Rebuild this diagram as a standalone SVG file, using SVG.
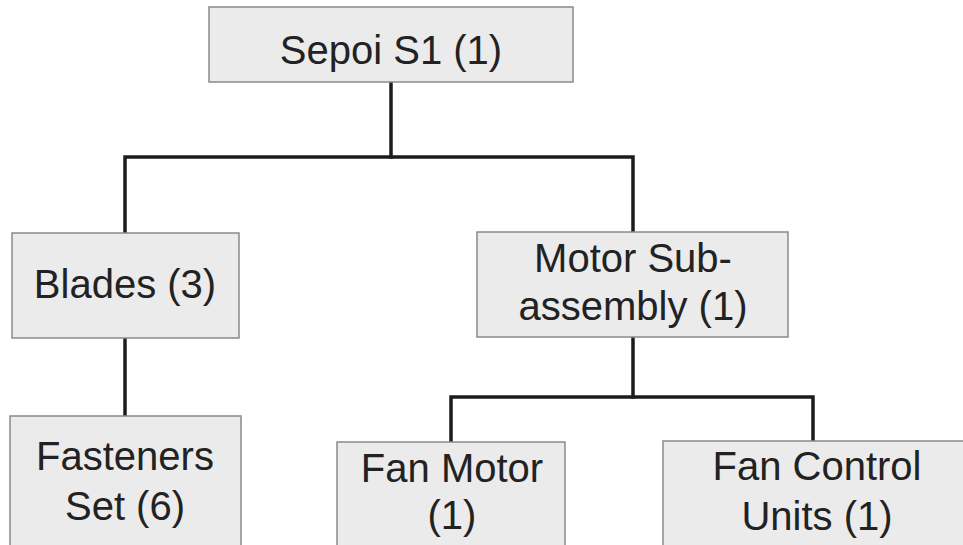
<svg xmlns="http://www.w3.org/2000/svg" width="963" height="545" viewBox="0 0 963 545">
<style>
.box{fill:#ebebeb;stroke:#8a8a8a;stroke-width:1.5}
.lbl{font-family:"Liberation Sans",Arial,sans-serif;font-size:40px;fill:#222;text-anchor:middle}
.wire{fill:none;stroke:#1c1c1c;stroke-width:3.5;stroke-linecap:square;stroke-linejoin:miter}
</style>
<rect width="963" height="545" fill="#ffffff"/>
<g id="connectors">
<path class="wire" d="M391 82 V157"/>
<path class="wire" d="M125 233 V157 H633 V232"/>
<path class="wire" d="M125 338 V416"/>
<path class="wire" d="M633 337 V397"/>
<path class="wire" d="M451 442 V397 H813 V441"/>
</g>
<g id="sepoi">
<rect class="box" x="209" y="7" width="364" height="75"/>
<text class="lbl" x="391" y="64">Sepoi S1 (1)</text>
</g>
<g id="blades">
<rect class="box" x="12" y="233" width="227" height="105"/>
<text class="lbl" x="125" y="298">Blades (3)</text>
</g>
<g id="motor-sub">
<rect class="box" x="477" y="232" width="311" height="105"/>
<text class="lbl" x="633" y="272">Motor Sub-</text>
<text class="lbl" x="633" y="320">assembly (1)</text>
</g>
<g id="fasteners">
<rect class="box" x="10" y="416" width="231" height="140"/>
<text class="lbl" x="125" y="470">Fasteners</text>
<text class="lbl" x="125" y="520">Set (6)</text>
</g>
<g id="fan-motor">
<rect class="box" x="337" y="442" width="228" height="114"/>
<text class="lbl" x="452" y="482">Fan Motor</text>
<text class="lbl" x="452" y="529">(1)</text>
</g>
<g id="fan-control">
<rect class="box" x="663" y="441" width="310" height="115"/>
<text class="lbl" x="817" y="480">Fan Control</text>
<text class="lbl" x="817" y="530">Units (1)</text>
</g>
</svg>
